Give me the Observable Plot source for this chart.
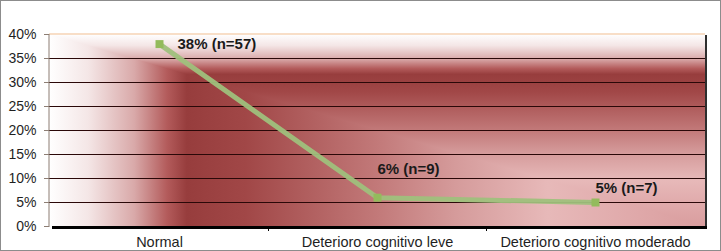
<!DOCTYPE html>
<html>
<head>
<meta charset="utf-8">
<script src="https://cdn.jsdelivr.net/npm/d3@7"></script>
<script src="https://cdn.jsdelivr.net/npm/@observablehq/plot@0.6"></script>
<style>
  html, body { margin: 0; padding: 0; background: #ffffff; }
  #chart svg { display: block; outline: 1px solid #8c8c8c; outline-offset: -1px; }
</style>
</head>
<body>
<div id="chart"></div>
<script>
// Cognitive status categories and their shares (percent) with counts
const categories = ["Normal", "Deterioro cognitivo leve", "Deterioro cognitivo moderado"];
const percents = [38, 6, 5];
const counts = [57, 9, 7];
const yTicks = [0, 5, 10, 15, 20, 25, 30, 35, 40];

// Label placement relative to each point (px)
const labelOffsets = [[18, 0], [0, -29], [0, -14]];

// Plot-area fill: white -> deep red -> pale rose, shaded from the bottom-right corner
const fillStops = [
  [0.00, "#ffffff"], [0.06, "#f4e6e6"], [0.13, "#d9a9a9"], [0.18, "#b35b5b"],
  [0.21, "#973d3d"], [0.30, "#a14747"], [0.50, "#c27979"], [0.62, "#d59b9b"],
  [0.76, "#e7b9b9"], [0.90, "#dfa8a9"], [1.00, "#d99d9e"]
];

const rows = categories.map((c, i) => ({category: c, pct: percents[i], n: counts[i]}));

function plotFill(index, scales, values, dims) {
  const L = dims.marginLeft, R = dims.width - dims.marginRight;
  const T = dims.marginTop, B = dims.height - dims.marginBottom;
  const g = d3.create("svg:g");
  const defs = g.append("defs");
  const grad = (id, x1, y1, x2, y2) => {
    const lg = defs.append("linearGradient").attr("id", id)
      .attr("gradientUnits", "userSpaceOnUse")
      .attr("x1", x1).attr("y1", y1).attr("x2", x2).attr("y2", y2);
    fillStops.forEach(([o, c]) => lg.append("stop").attr("offset", o).attr("stop-color", c));
  };
  grad("fill-h", L, 0, R, 0);
  grad("fill-v", 0, T, 0, B);
  g.append("rect").attr("x", L).attr("y", T).attr("width", R - L).attr("height", B - T)
    .attr("fill", "url(#fill-h)");
  g.append("polygon").attr("points", `${L},${T} ${R},${T} ${R},${B}`).attr("fill", "url(#fill-v)");
  return g.node();
}

function frameLines(index, scales, values, dims) {
  const L = dims.marginLeft, R = dims.width - dims.marginRight;
  const T = dims.marginTop, B = dims.height - dims.marginBottom;
  const g = d3.create("svg:g");
  // top edge
  g.append("line").attr("x1", L).attr("x2", R).attr("y1", T).attr("y2", T)
    .attr("stroke", "#f6d3b4").attr("stroke-width", 1.5);
  // right shadow
  g.append("line").attr("x1", R + 1).attr("x2", R + 1).attr("y1", T + 1).attr("y2", B + 2)
    .attr("stroke", "#2e2e2e").attr("stroke-width", 2);
  // value axis line
  g.append("line").attr("x1", L).attr("x2", L).attr("y1", T).attr("y2", B + 1)
    .attr("stroke", "#8c7d73").attr("stroke-width", 1);
  // category axis line
  g.append("line").attr("x1", L + 3).attr("x2", R + 2).attr("y1", B + 1.5).attr("y2", B + 1.5)
    .attr("stroke", "#000000").attr("stroke-width", 3);
  // category boundary ticks
  const x = scales.x;
  const step = x(categories[1]) - x(categories[0]);
  categories.slice(0, -1).forEach(c => {
    const bx = Math.round(x(c) + step / 2) + 0.5;
    g.append("line").attr("x1", bx).attr("x2", bx).attr("y1", B + 1).attr("y2", B + 5)
      .attr("stroke", "#000000").attr("stroke-width", 1);
  });
  return g.node();
}

const chart = Plot.plot({
  width: 721,
  height: 251,
  marginLeft: 49,
  marginRight: 16,
  marginTop: 34,
  marginBottom: 25,
  style: {fontFamily: "'Liberation Sans', Arial, sans-serif", fontSize: "14px", color: "#1f1f1f", background: "#ffffff"},
  x: {type: "point", domain: categories, padding: 0.5, label: null},
  y: {domain: [0, 40], label: null},
  marks: [
    plotFill,
    Plot.ruleY(yTicks.filter(t => t > 0 && t < 40), {stroke: "#2a0808", strokeWidth: 1}),
    frameLines,
    Plot.line(rows, {x: "category", y: "pct", stroke: "#9fc07c", strokeWidth: 5, strokeOpacity: 0.95}),
    Plot.dot(rows, {x: "category", y: "pct", symbol: "square", r: 4.5, fill: "#93bb5c", stroke: "none"}),
    ...labelOffsets.map(([dx, dy], i) =>
      Plot.text([rows[i]], {
        x: "category", y: "pct",
        text: d => `${d.pct}% (n=${d.n})`,
        textAnchor: "start", dx, dy,
        fontWeight: "bold", fontSize: 15, fill: "#1a1a1a"
      })
    ),
    Plot.axisY({ticks: yTicks, tickSize: 5, tickPadding: 8, tickFormat: d => d + "%", stroke: "#8c7d73", fontSize: 14, label: null}),
    Plot.axisX({tickSize: 0, tickPadding: 10, fontSize: 14.5, label: null})
  ]
});

document.getElementById("chart").append(chart);
</script>
</body>
</html>
